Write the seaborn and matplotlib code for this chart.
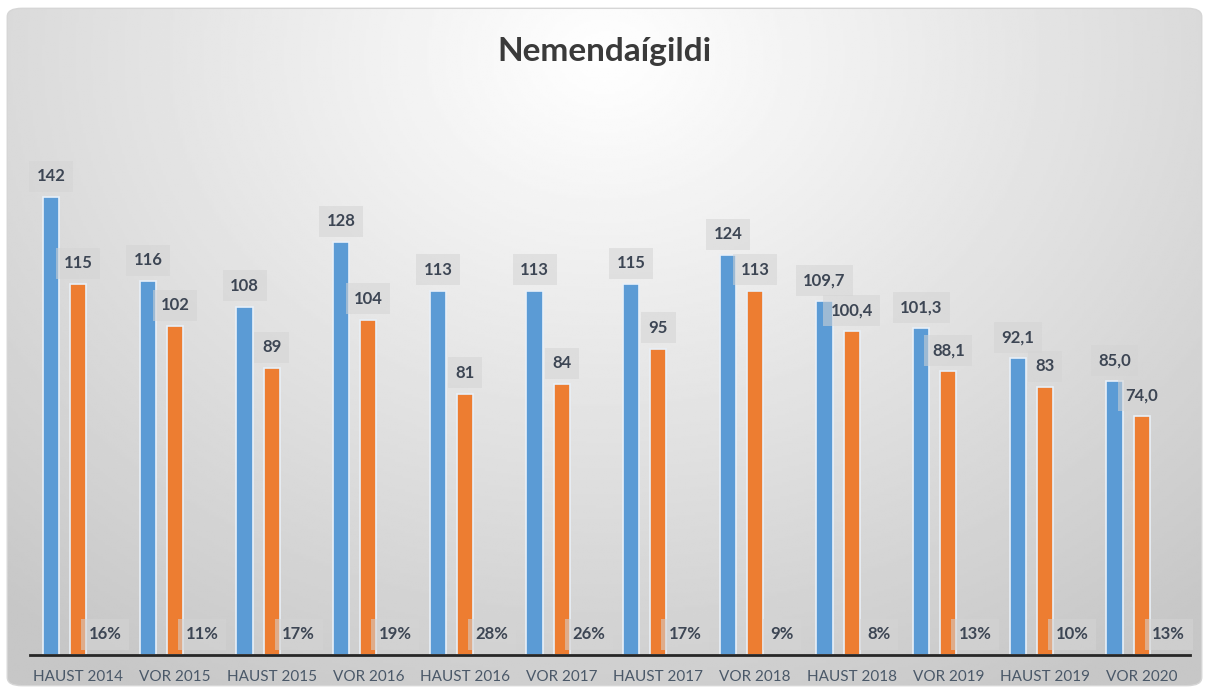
import numpy as np
import pandas as pd
import seaborn as sns
import matplotlib.pyplot as plt
from matplotlib.patches import FancyBboxPatch

# data
periods = ['HAUST 2014', 'VOR 2015', 'HAUST 2015', 'VOR 2016', 'HAUST 2016', 'VOR 2017',
           'HAUST 2017', 'VOR 2018', 'HAUST 2018', 'VOR 2019', 'HAUST 2019', 'VOR 2020']
start_vals = [142, 116, 108, 128, 113, 113, 115, 124, 109.7, 101.3, 92.1, 85.0]
end_vals = [115, 102, 89, 104, 81, 84, 95, 113, 100.4, 88.1, 83, 74.0]
drop_pct = [16, 11, 17, 19, 28, 26, 17, 9, 8, 13, 10, 13]
start_labels = ['142', '116', '108', '128', '113', '113', '115', '124', '109,7', '101,3', '92,1', '85,0']
end_labels = ['115', '102', '89', '104', '81', '84', '95', '113', '100,4', '88,1', '83', '74,0']

df = pd.concat([
    pd.DataFrame({'period': periods, 'series': 'start', 'value': start_vals}),
    pd.DataFrame({'period': periods, 'series': 'end', 'value': end_vals}),
    pd.DataFrame({'period': periods, 'series': 'pct', 'value': [0] * len(periods)}),
])

sns.set_style("white")
plt.rcParams['font.family'] = ['Lato', 'DejaVu Sans']

fig = plt.figure(figsize=(12.09, 6.94), dpi=100)

# background with a soft radial gradient and rounded frame
bg = fig.add_axes([0, 0, 1, 1], zorder=-10)
bg.set_axis_off()
yy, xx = np.mgrid[0:1:300j, 0:1:500j]
d = np.sqrt(((xx - 0.5) / 0.75) ** 2 + ((yy - 0.08) / 1.05) ** 2)
grad = 1.0 - 0.22 * np.clip(d, 0, 1)
img = bg.imshow(grad, cmap='gray', vmin=0, vmax=1, extent=[0, 1, 1, 0], aspect='auto')
bg.set_xlim(0, 1)
bg.set_ylim(1, 0)
frame = FancyBboxPatch((0.006, 0.012), 0.988, 0.976, boxstyle="round,pad=0,rounding_size=0.012",
                       transform=bg.transAxes, fc='none', ec='#d6d6d6', lw=1)
bg.add_patch(frame)
img.set_clip_path(frame)

ax = fig.add_axes([30 / 1209, (694 - 655) / 694, 1160 / 1209, 516 / 694])
ax.patch.set_alpha(0)
sns.barplot(data=df, x='period', y='value', hue='series',
            palette=['#5B9BD5', '#ED7D31', '#A5A5A5'], saturation=1, width=0.84, gap=0.4,
            edgecolor='#e8f0f8', linewidth=1.2, legend=False, ax=ax)
ax.set_ylim(0, 160)
ax.set_xlim(-0.5, len(periods) - 0.5)

label_sets = [start_labels, end_labels, [f'{p}%' for p in drop_pct]]
for i, (cont, labels) in enumerate(zip(ax.containers, label_sets)):
    for bar, txt in zip(cont, labels):
        if i == 2:
            bar.set_linewidth(0)
        ax.annotate(txt, (bar.get_x() + bar.get_width() / 2, bar.get_height()),
                    xytext=(0, 15), textcoords='offset points', ha='center', va='center',
                    fontsize=12, fontweight='bold', color='#3d4654',
                    bbox=dict(boxstyle='square,pad=0.45', fc='#d4d4d4', ec='none', alpha=0.55))

for s in ['top', 'right', 'left']:
    ax.spines[s].set_visible(False)
ax.spines['bottom'].set_color('#262626')
ax.spines['bottom'].set_linewidth(2)
ax.set_yticks([])
ax.set_xlabel('')
ax.set_ylabel('')
ax.tick_params(axis='x', length=0, pad=11, labelsize=11, labelcolor='#4a5868')

fig.text(0.5, 1 - 52 / 694, 'Nemendaígildi', ha='center', va='center',
         fontsize=24, fontweight='bold', color='#3a3a3a')

fig.savefig('out.png', dpi=100)
